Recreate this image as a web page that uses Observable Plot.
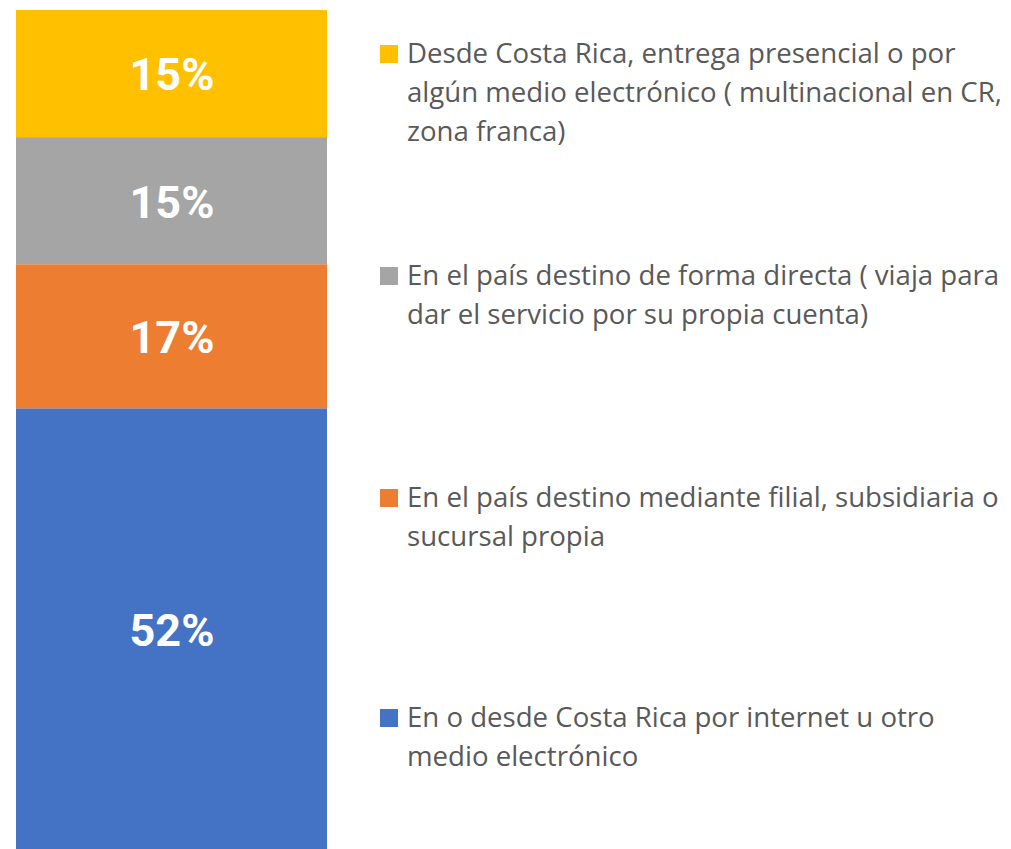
<!DOCTYPE html>
<html>
<head>
<meta charset="utf-8">
<script src="https://cdn.jsdelivr.net/npm/d3@7"></script>
<script src="https://cdn.jsdelivr.net/npm/@observablehq/plot@0.6"></script>
<style>
  html, body { margin: 0; padding: 0; background: #fff; }
  #wrap { position: relative; width: 1011px; height: 849px; overflow: hidden; }
  #chart svg { display: block; }
  .item { position: absolute; left: 380px; font-family: "Open Sans", sans-serif; font-size: 27.6px; line-height: 39px; color: #595959; white-space: pre-line; }
  .sw { position: absolute; left: 0; width: 17.5px; height: 17.5px; top: 12.3px; }
  .txt { margin-left: 27px; }
</style>
</head>
<body>
<div id="wrap">
  <div id="chart"></div>
  <div id="legend"></div>
</div>
<script>
// Stack order: bottom to top
const categories = [
  "En o desde Costa Rica por internet u otro\nmedio electrónico",
  "En el país destino mediante filial, subsidiaria o\nsucursal propia",
  "En el país destino de forma directa ( viaja para\ndar el servicio por su propia cuenta)",
  "Desde Costa Rica, entrega presencial o por\nalgún medio electrónico ( multinacional en CR,\nzona franca)"
];
const values = [52, 17, 15, 15];
const colors = ["#4472C4", "#ED7D31", "#A5A5A5", "#FFC000"];
const valueLabels = ["52%", "17%", "15%", "15%"];
// legend order top to bottom and line-box tops
const legendOrder = [3, 2, 1, 0];
const legendTops = [32.8, 254.8, 476.8, 696.8];

const data = categories.map((c, i) => ({group: "total", cat: c, value: values[i], label: valueLabels[i]}));

const chart = Plot.plot({
  width: 1011,
  height: 849,
  marginTop: 10,
  marginBottom: 0,
  marginLeft: 16,
  marginRight: 684,
  x: {type: "band", domain: ["total"], padding: 0, axis: null},
  y: {domain: [0, 99], axis: null},
  color: {domain: categories, range: colors},
  marks: [
    Plot.barY(data, Plot.stackY({x: "group", y: "value", fill: "cat", order: null})),
    Plot.text(data, Plot.stackY({x: "group", y: "value", text: "label", order: null,
      fill: "white", fontSize: 45, fontWeight: "bold", fontFamily: "Roboto, sans-serif", dy: 2}))
  ]
});
document.getElementById("chart").appendChild(chart);

const legend = document.getElementById("legend");
legendOrder.forEach((idx, k) => {
  const item = document.createElement("div");
  item.className = "item";
  item.style.top = legendTops[k] + "px";
  const sw = document.createElement("div");
  sw.className = "sw";
  sw.style.background = colors[idx];
  const txt = document.createElement("div");
  txt.className = "txt";
  txt.textContent = categories[idx];
  item.appendChild(sw);
  item.appendChild(txt);
  legend.appendChild(item);
});
</script>
</body>
</html>
